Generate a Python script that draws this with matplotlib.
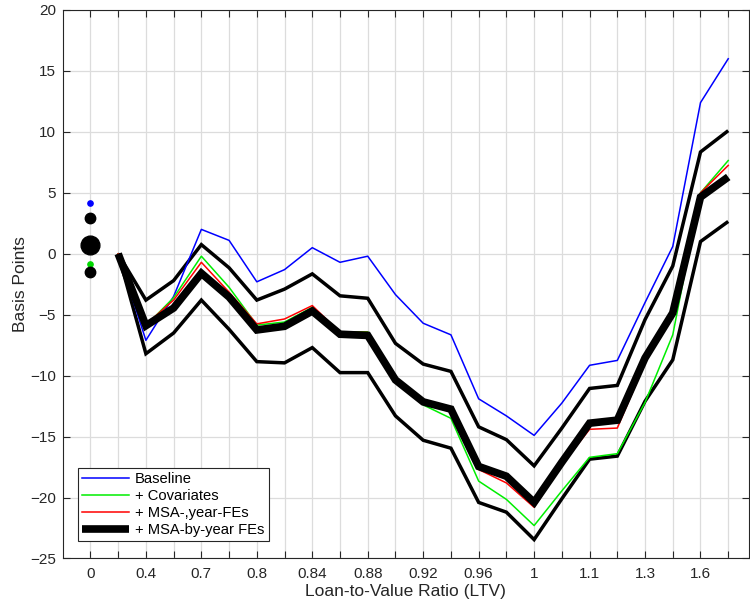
import matplotlib
matplotlib.use("Agg")
import matplotlib.pyplot as plt
import numpy as np

plt.rcParams["font.family"] = ["Liberation Sans", "DejaVu Sans"]

# LTV bins along the x axis (every other bin carries a label)
ltv_labels = ["0", "", "0.4", "", "0.7", "", "0.8", "", "0.84", "", "0.88", "",
              "0.92", "", "0.96", "", "1", "", "1.1", "", "1.3", "", "1.6", ""]

# Coefficient paths (basis points), bins 1..23
baseline = [0, -7.1, -3.5, 2.0, 1.1, -2.3, -1.3, 0.5, -0.7, -0.2, -3.35, -5.7,
            -6.65, -11.9, -13.3, -14.9, -12.25, -9.15, -8.75, -4.0, 0.6, 12.4, 16.0]
covariates = [0, -5.9, -3.6, -0.2, -2.75, -5.85, -5.6, -4.4, -6.4, -6.4, -10.4, -12.4,
              -13.5, -18.65, -20.15, -22.3, -19.45, -16.7, -16.4, -12.2, -6.65, 5.0, 7.65]
msa_year = [0, -5.8, -3.8, -0.7, -3.15, -5.75, -5.35, -4.25, -6.45, -6.45, -10.3, -12.2,
            -12.95, -17.7, -18.8, -20.8, -17.3, -14.4, -14.3, -8.95, -4.95, 5.0, 7.25]
msa_by_year = [0, -5.9, -4.45, -1.6, -3.55, -6.25, -5.95, -4.7, -6.6, -6.7, -10.35, -12.15,
               -12.75, -17.45, -18.25, -20.4, -17.1, -13.9, -13.65, -8.55, -4.85, 4.65, 6.3]
ci_upper = [0, -3.8, -2.2, 0.75, -1.15, -3.8, -2.9, -1.65, -3.45, -3.65, -7.35, -9.05,
            -9.65, -14.2, -15.25, -17.4, -14.3, -11.05, -10.8, -5.4, -1.0, 8.35, 10.1]
ci_lower = [0, -8.2, -6.5, -3.8, -6.2, -8.85, -8.95, -7.7, -9.75, -9.75, -13.3, -15.3,
            -15.95, -20.4, -21.2, -23.45, -20.1, -16.85, -16.6, -12.1, -8.7, 1.0, 2.65]

# Values plotted at the LTV = 0 bin
zero_values = [4.15, 2.93, 0.74, -0.82, -1.48]
zero_colors = ["#0000ff", "black", "black", "#00d800", "black"]
zero_msizes = [3.8, 7.5, 13.5, 3.8, 7.5]

fig = plt.figure(figsize=(7.5, 6.06), dpi=100)
ax = fig.add_axes([0.0836, 0.0784, 0.9151, 0.9051])

axis_gray = "#262626"
x = np.arange(1, len(baseline) + 1)

thick_kw = dict(solid_joinstyle="miter", solid_capstyle="butt")
ax.plot(x, ci_upper, color="black", lw=2.5, zorder=3, **thick_kw)
ax.plot(x, ci_lower, color="black", lw=2.5, zorder=3, **thick_kw)
ax.plot(x, baseline, color="#0000ff", lw=1.1, label="Baseline", zorder=4)
ax.plot(x, covariates, color="#00ee00", lw=1.1, label="+ Covariates", zorder=4)
ax.plot(x, msa_year, color="#ff0000", lw=1.1, label="+ MSA-,year-FEs", zorder=4)
ax.plot(x, msa_by_year, color="black", lw=5.5, label="+ MSA-by-year FEs", zorder=5,
        **thick_kw)

for v, c, s in zip(zero_values, zero_colors, zero_msizes):
    ax.plot([0], [v], "o", color=c, ms=s, mec=c, zorder=6)

ax.set_xlim(-1, 23.75)
ax.set_ylim(-25, 20)
ax.set_xticks(np.arange(len(ltv_labels)))
ax.set_xticklabels(ltv_labels)
ax.set_yticks(np.arange(-25, 21, 5))

ax.grid(True, color="#dcdcdc", lw=0.9)
ax.set_axisbelow(True)
for sp in ax.spines.values():
    sp.set_color(axis_gray)
    sp.set_linewidth(0.8)
ax.tick_params(direction="in", length=5, width=0.8, color=axis_gray,
               labelcolor=axis_gray, labelsize=11, top=True, right=True, pad=6)
ax.tick_params(axis="y", pad=5)

ax.set_xlabel("Loan-to-Value Ratio (LTV)", fontsize=12.5, color=axis_gray, labelpad=2)
ax.set_ylabel("Basis Points", fontsize=12.5, color=axis_gray, labelpad=1)

leg = ax.legend(loc="lower left", bbox_to_anchor=(0.022, 0.031), borderaxespad=0,
                fontsize=10.6, frameon=True, fancybox=False, framealpha=1,
                handlelength=3.2, handletextpad=0.4, labelspacing=0.2,
                borderpad=0.3)
leg.get_frame().set_edgecolor(axis_gray)
leg.get_frame().set_linewidth(0.8)

fig.savefig("out.png", dpi=100)
